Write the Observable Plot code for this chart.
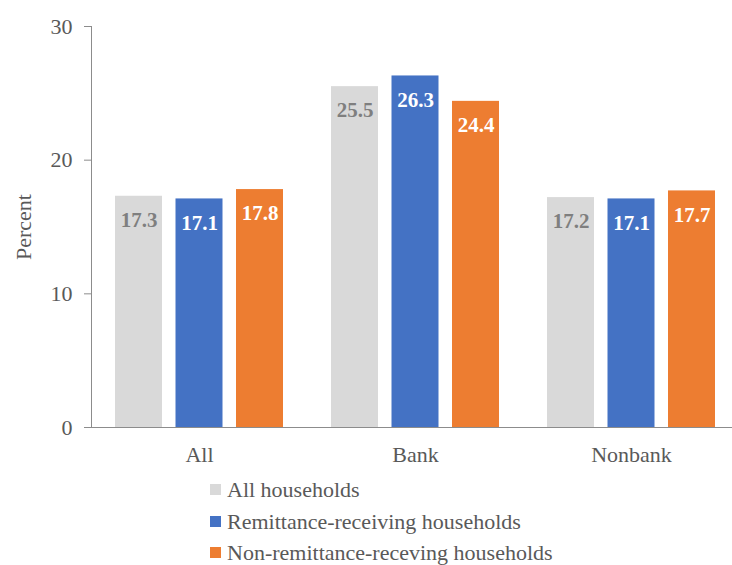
<!DOCTYPE html>
<html>
<head>
<meta charset="utf-8">
<script src="https://cdn.jsdelivr.net/npm/d3@7"></script>
<script src="https://cdn.jsdelivr.net/npm/@observablehq/plot@0.6"></script>
<style>body{margin:0;background:#fff;font-family:"Liberation Serif", serif;} .c1{font-family:"Liberation Serif", serif;}</style>
</head>
<body>
<div id="chart" class="c1" style="font-family:'Liberation Serif'; width:732px"></div>
<script>
const categories = ["All", "Bank", "Nonbank"];
const seriesNames = ["All households", "Remittance-receiving households", "Non-remittance-receving households"];
const allHouseholds = [17.3, 25.5, 17.2];
const remittanceReceiving = [17.1, 26.3, 17.1];
const nonRemittanceReceiving = [17.8, 24.4, 17.7];
const yTicks = [0, 10, 20, 30];

const seriesValues = [allHouseholds, remittanceReceiving, nonRemittanceReceiving];
const fills = ["#D9D9D9", "#4472C4", "#ED7D31"];
const labelFills = ["#7F7F7F", "#FFFFFF", "#FFFFFF"];
const offsets = [-60.5, 0, 60.5];

const tables = seriesValues.map(vals => categories.map((c, i) => ({category: c, value: vals[i]})));

const marks = [];
tables.forEach((t, k) => {
  marks.push(Plot.barY(t, {x: "category", y: "value", fill: fills[k], insetLeft: 84.5, insetRight: 84.5, dx: offsets[k]}));
});
tables.forEach((t, k) => {
  marks.push(Plot.text(t, {x: "category", y: "value", text: d => d.value.toFixed(1), dx: offsets[k], dy: 24,
    fill: labelFills[k], fontWeight: "bold", fontSize: 21, fontFamily: "Liberation Serif"}));
});

const chart = Plot.plot({
  width: 732,
  height: 470,
  marginLeft: 91,
  marginRight: 0,
  marginTop: 26,
  marginBottom: 43,
  style: {fontFamily: "Liberation Serif", fontSize: "22px"},
  x: {domain: categories, range: [91, 739], padding: 0},
  y: {domain: [0, 30]},
  marks: [
    ...marks,
    Plot.frame({anchor: "left", stroke: "#8C8C8C"}),
    Plot.ruleY([0], {stroke: "#8C8C8C"}),
    Plot.axisY({ticks: yTicks, tickSize: 7, tickPadding: 12, fontSize: 22, stroke: "#8C8C8C", fill: "#595959",
      fontFamily: "Liberation Serif", label: "Percent", labelAnchor: "center", labelArrow: "none", labelOffset: 76}),
    Plot.axisX({tickSize: 0, tickPadding: 19, fontSize: 22, fill: "#595959", fontFamily: "Liberation Serif", label: null})
  ]
});
document.getElementById("chart").appendChild(chart);

const legend = document.createElement("div");
legend.className = "c1";
legend.style.cssText = "font-family:'Liberation Serif'; margin:4px 0 0 210px; font-size:22px; color:#595959;";
seriesNames.forEach((name, k) => {
  const row = document.createElement("div");
  row.style.cssText = "height:31.5px; line-height:31.5px; white-space:nowrap;";
  const sw = document.createElement("span");
  sw.style.cssText = "display:inline-block; width:11px; height:11px; margin-right:6px; vertical-align:middle; position:relative; top:-2px; background:" + fills[k];
  const tx = document.createElement("span");
  tx.style.cssText = "font-family:'Liberation Serif';";
  tx.textContent = name;
  row.appendChild(sw);
  row.appendChild(tx);
  legend.appendChild(row);
});
document.getElementById("chart").appendChild(legend);
</script>
</body>
</html>
